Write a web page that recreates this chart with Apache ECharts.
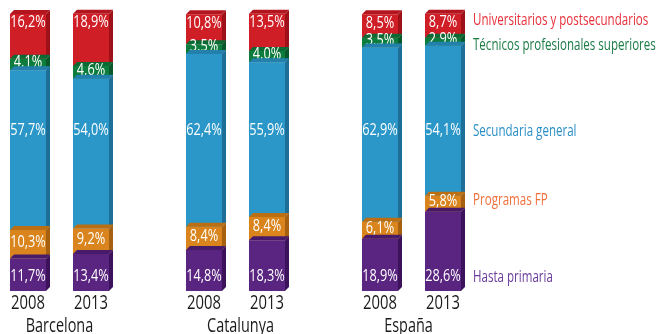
<!DOCTYPE html>
<html>
<head>
<meta charset="utf-8">
<script src="https://cdn.jsdelivr.net/npm/echarts@6/dist/echarts.min.js"></script>
<style>
  html, body { margin: 0; padding: 0; background: #fff; }
  #chart { width: 663px; height: 334px; }
</style>
</head>
<body>
<div id="chart"></div>
<script>
// Territories and years
const groups = ['Barcelona', 'Catalunya', 'España'];
const years = ['2008', '2013'];

// Education levels, top of the stack first
const levels = [
  'Universitarios y postsecundarios',
  'Técnicos profesionales superiores',
  'Secundaria general',
  'Programas FP',
  'Hasta primaria'
];

// Shares (%) per bar: Barcelona 2008, Barcelona 2013, Catalunya 2008, Catalunya 2013, España 2008, España 2013
const universitarios = [16.2, 18.9, 10.8, 13.5, 8.5, 8.7];
const tecnicos       = [4.1, 4.6, 3.5, 4.0, 3.5, 2.9];
const secundaria     = [57.7, 54.0, 62.4, 55.9, 62.9, 54.1];
const programasFP    = [10.3, 9.2, 8.4, 8.4, 6.1, 5.8];
const hastaPrimaria  = [11.7, 13.4, 14.8, 18.3, 18.9, 28.6];

const seriesValues = [universitarios, tecnicos, secundaria, programasFP, hastaPrimaria];

// Styling
const FONT = '"Open Sans", "Noto Sans", sans-serif';
const faceColors = ['#d01e27', '#0d7d3d', '#2b96c8', '#d9841d', '#5a2580'];
const sideColors = ['#9e1119', '#07582a', '#1d6f98', '#a5610f', '#3c125a'];
const topColors  = ['#b3151e', '#0a6a33', '#2380ad', '#bb6f12', '#471a6a'];
const legendColors = ['#e62f3a', '#1b7b45', '#2a8fc6', '#f0703c', '#6a3a9b'];

// Geometry
const GROUP_STEP = 176;   // px between territory centres
const FIRST_GROUP = 59.5; // px, centre of the first territory
const YEAR_OFFSET = 31.5; // px from territory centre to each bar
const HALF_W = 18;        // half width of the bar front
const DEPTH = 4;          // 3D depth offset
const CHART_W = 663;
const SECUNDARIA_LABEL_LEVEL = 57.8;
const NAME_SHIFT = [0, 5, -3]; // px nudge of each territory name

const fmt = v => v.toFixed(1).replace('.', ',') + '%';

// Condensed-looking text: horizontally squeezed around its anchor point
function label(text, x, y, size, squeeze, color, align) {
  return {
    type: 'text', x: x, y: y, scaleX: squeeze, scaleY: 1,
    style: { text: text, x: 0, y: 0, fill: color, font: size + 'px ' + FONT,
             align: align || 'center', verticalAlign: 'middle' }
  };
}

// Cumulative bases from the bottom of each bar
const bases = seriesValues.map(() => []);
for (let b = 0; b < 6; b++) {
  let acc = 0;
  for (let s = seriesValues.length - 1; s >= 0; s--) {
    bases[s][b] = acc;
    acc += seriesValues[s][b];
  }
}

function barCenter(api, bar) {
  const g = Math.floor(bar / 2);
  const y = bar % 2;
  return api.coord([g, 0])[0] + (y === 0 ? -YEAR_OFFSET : YEAR_OFFSET);
}

function makeRender(s) {
  return function (params, api) {
    const bar = api.value(0);
    const base = api.value(1);
    const val = api.value(2);
    const cx = barCenter(api, bar);
    const x0 = cx - HALF_W, x1 = cx + HALF_W;
    const yb = api.coord([0, base])[1];
    const yt = api.coord([0, base + val])[1];
    const d = DEPTH;
    const children = [
      { type: 'rect', shape: { x: x0, y: yt, width: x1 - x0, height: yb - yt },
        style: { fill: faceColors[s] } },
      { type: 'polygon', shape: { points: [[x1, yt], [x1 + d, yt - d], [x1 + d, yb - d], [x1, yb]] },
        style: { fill: sideColors[s] } },
      { type: 'polygon', shape: { points: [[x0, yt], [x1, yt], [x1 + d, yt - d], [x0 + d, yt - d]] },
        style: { fill: topColors[s] } }
    ];
    // value label position per level
    let ly;
    if (s === 0) ly = yt + 9;
    else if (s === 2) ly = api.coord([0, SECUNDARIA_LABEL_LEVEL])[1];
    else if (s === 4) ly = yb - 14;
    else ly = (yt + yb) / 2 - 2;
    children.push(label(fmt(val), cx, ly, 15.5, 0.82, '#ffffff'));
    // level name beside the last bar
    if (bar === 5) {
      const legendY = [20, 45, 131, 200, 277][s];
      children.push(label(levels[s], x1 + d + 8, legendY, 17, 0.68, legendColors[s], 'left'));
    }
    return { type: 'group', children };
  };
}

const customSeries = seriesValues.map((vals, s) => ({
  type: 'custom',
  name: levels[s],
  renderItem: makeRender(s),
  encode: { x: 0, y: [1, 2] },
  data: vals.map((v, b) => [b, bases[s][b], v]),
  silent: true,
  z: 2 + s
}));

// Year and territory labels under the bars
customSeries.push({
  type: 'custom',
  name: 'ejes',
  silent: true,
  data: [0, 1, 2, 3, 4, 5].map(b => [b]),
  renderItem: function (params, api) {
    const bar = api.value(0);
    const cx = barCenter(api, bar);
    const yAxisBottom = api.coord([0, 0])[1];
    const children = [label(years[bar % 2], cx, yAxisBottom + 12, 20, 0.74, '#1a1a1a')];
    if (bar % 2 === 0) {
      const g = Math.floor(bar / 2);
      const gx = api.coord([g, 0])[0] + NAME_SHIFT[g];
      children.push(label(groups[g], gx, yAxisBottom + 35, 19.5, 0.74, '#1a1a1a'));
    }
    return { type: 'group', children };
  }
});

const chart = echarts.init(document.getElementById('chart'), null, { renderer: 'canvas' });
chart.setOption({
  animation: false,
  grid: { left: 0, right: 0, top: 14, bottom: 43 },
  xAxis: {
    type: 'value',
    min: -FIRST_GROUP / GROUP_STEP,
    max: (CHART_W - FIRST_GROUP) / GROUP_STEP,
    show: false
  },
  yAxis: { type: 'value', min: 0, max: 100, show: false },
  series: customSeries
});
</script>
</body>
</html>
